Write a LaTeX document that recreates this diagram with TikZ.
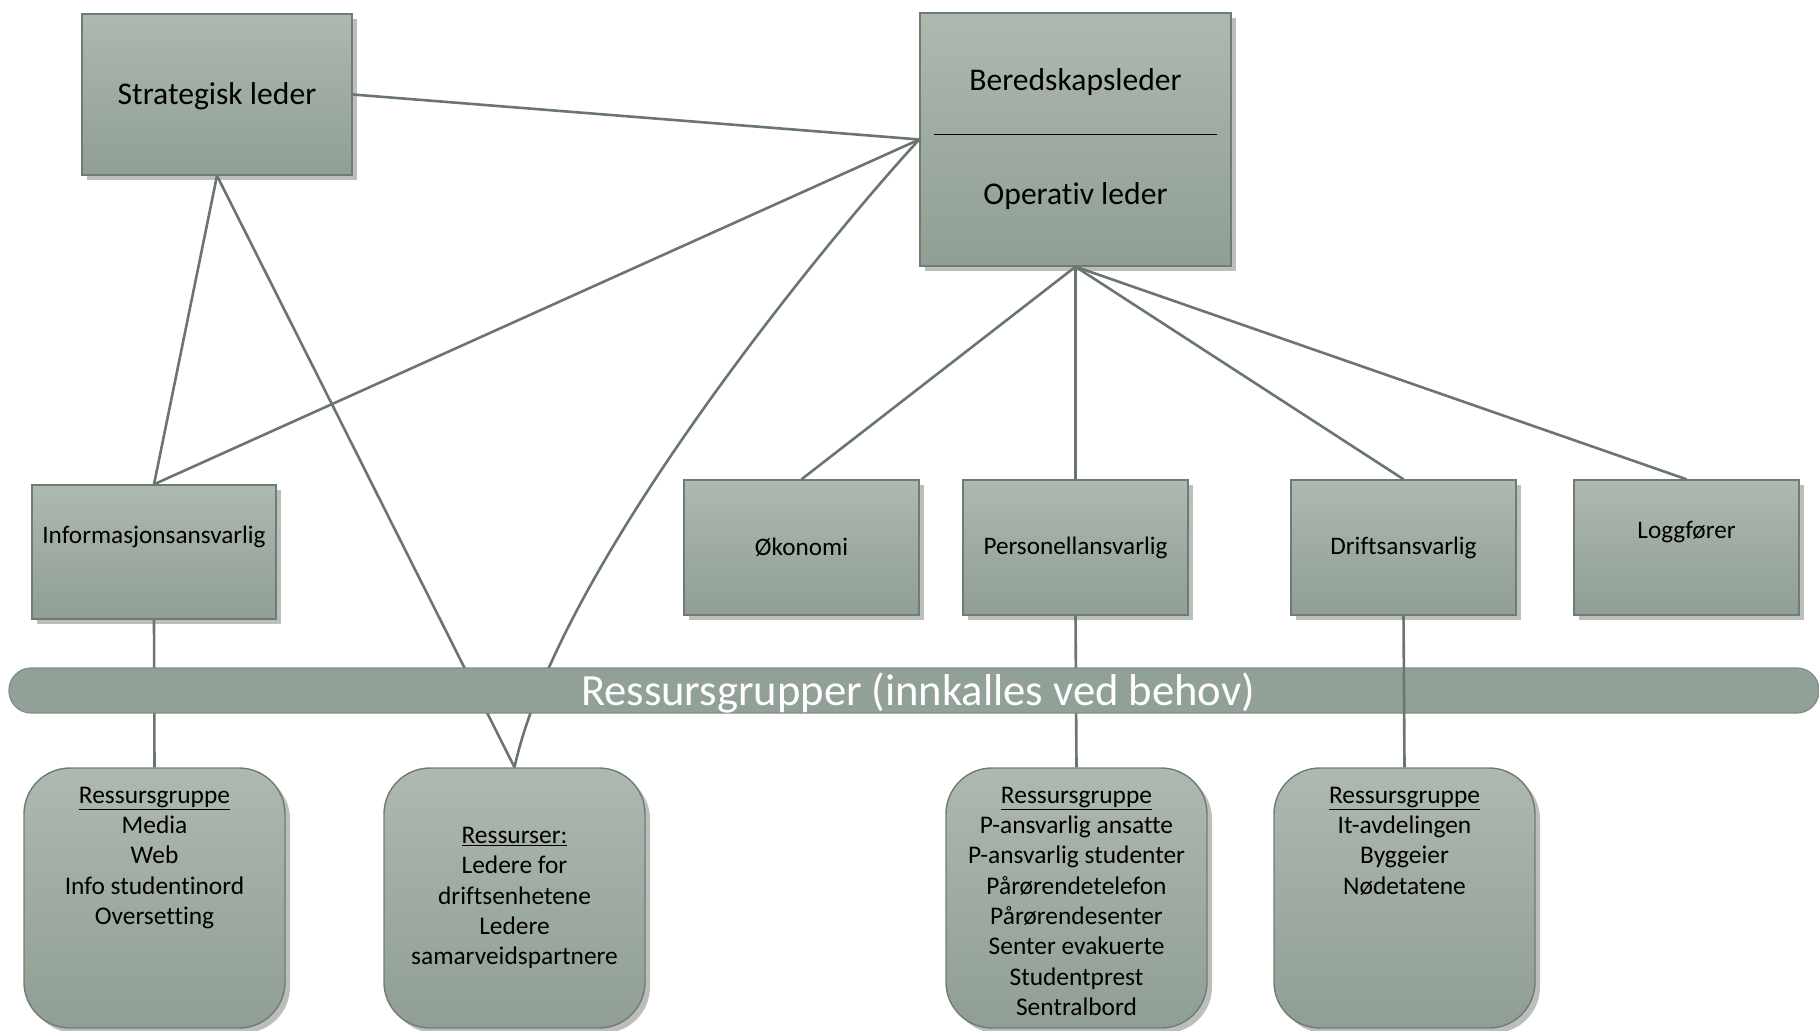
\documentclass[tikz,border=0pt]{standalone}
\usepackage{fontspec}
\setmainfont{Carlito}[Ligatures=NoCommon]
\usetikzlibrary{shadows}
\definecolor{boxtop}{RGB}{174,185,176}
\definecolor{boxbot}{RGB}{144,158,148}
\definecolor{boxline}{RGB}{110,124,114}
\definecolor{conn}{RGB}{104,118,109}
\definecolor{bandfill}{RGB}{146,161,151}
\definecolor{bandline}{RGB}{128,142,132}
\definecolor{shadowgray}{RGB}{188,190,188}
\begin{document}
\begin{tikzpicture}[x=1pt,y=-1pt,
  box/.style={draw=boxline,line width=1.4pt,top color=boxtop,bottom color=boxbot,
    drop shadow={shadow xshift=5pt,shadow yshift=-5pt,fill=shadowgray,opacity=1},
    inner sep=0pt,align=center},
  lead/.style={box,font=\fontsize{31.6}{38}\selectfont},
  role/.style={box,minimum width=225pt,minimum height=135pt,font=\fontsize{25.2}{30}\selectfont},
  group/.style={box,rounded corners=46pt,minimum width=261pt,minimum height=260pt,
    font=\fontsize{25.4}{30.3}\selectfont},
  link/.style={draw=conn,line width=2.6pt},
  band/.style={fill=bandfill,draw=bandline,line width=1.2pt,rounded corners=22pt,
    minimum width=1810pt,minimum height=45pt,inner sep=0pt,text=white,
    font=\fontsize{44.6}{50}\selectfont}]
\useasboundingbox (0,0) rectangle (1819,1030);
\node[lead,minimum width=270pt,minimum height=161pt] (strat) at (217,94.5)
  {\raisebox{-2pt}[\height][\depth]{Strategisk leder}};
\node[lead,minimum width=311pt,minimum height=253pt] (bered) at (1075.5,139.5)
  {Beredskapsleder\\[6pt]\rule{283pt}{1.3pt}\\[32pt]Operativ leder};
\node[role,minimum width=244pt,minimum height=134pt] (info) at (154,552)
  {\raisebox{15pt}[\height][\depth]{Informasjonsansvarlig}};
\node[role,minimum width=235pt] (okon) at (801.5,547.5) {Økonomi};
\node[role] (pers) at (1075.5,547.5) {Personellansvarlig};
\node[role] (drift) at (1403.5,547.5) {Driftsansvarlig};
\node[role] (logg) at (1686.5,547.5) {\raisebox{15pt}[\height][\depth]{Loggfører}};
\node[group] (rgmedia) at (154.5,898)
  {\parbox[c][222pt][t]{250pt}{\centering\underline{Ressursgruppe}\\Media\\Web\\Info studentinord\\Oversetting}};
\node[group] (rgleder) at (514.5,898)
  {\underline{Ressurser:}\\Ledere for\\driftsenhetene\\Ledere\\samarveidspartnere};
\node[group] (rgpers) at (1076.5,898)
  {\parbox[c][222pt][t]{250pt}{\centering\underline{Ressursgruppe}\\P-ansvarlig ansatte\\P-ansvarlig studenter\\Pårørendetelefon\\Pårørendesenter\\Senter evakuerte\\Studentprest\\Sentralbord}};
\node[group] (rgdrift) at (1404.5,898)
  {\parbox[c][222pt][t]{250pt}{\centering\underline{Ressursgruppe}\\It-avdelingen\\Byggeier\\Nødetatene}};
\draw[link] (strat.east) -- (bered.west);
\draw[link] (strat.south) -- (info.north);
\draw[link] (strat.south) -- (rgleder.north);
\draw[link] (bered.west) -- (info.north);
\draw[link] (bered.west) .. controls (840,225) and (560,560) .. (rgleder.north);
\draw[link] (bered.south) -- (okon.north);
\draw[link] (bered.south) -- (pers.north);
\draw[link] (bered.south) -- (drift.north);
\draw[link] (bered.south) -- (logg.north);
\draw[link] (info.south) -- (rgmedia.north);
\draw[link] (pers.south) -- (rgpers.north);
\node[band] (band) at (914,690.5)
  {\hspace*{8pt}\raisebox{-3pt}[\height][\depth]{Ressursgrupper (innkalles ved behov)}};
\draw[link] (drift.south) -- (rgdrift.north);
\end{tikzpicture}
\end{document}
